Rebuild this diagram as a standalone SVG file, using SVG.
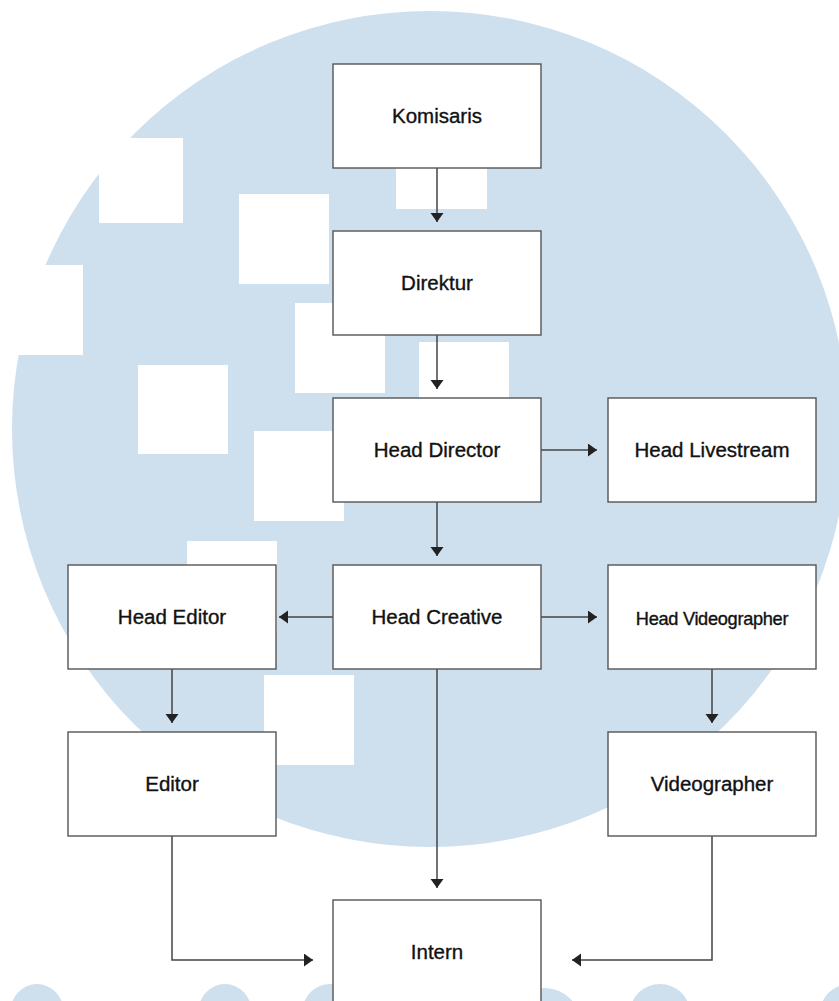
<svg xmlns="http://www.w3.org/2000/svg" width="839" height="1001" viewBox="0 0 839 1001">
<style>
.box{fill:#fff;stroke:#555;stroke-width:1.4}
.lbl{font-family:"Liberation Sans",Arial,sans-serif;font-size:20.5px;fill:#111;stroke:#111;stroke-width:0.35;text-anchor:middle}
.sm{font-size:18.2px;letter-spacing:-0.3px}
.ln{fill:none;stroke:#444;stroke-width:1.5}
.bg{fill:#cedfee}
.sq{fill:#fff}
</style>
<defs>
<marker id="ah" markerUnits="userSpaceOnUse" markerWidth="12" markerHeight="14" refX="9" refY="6.5" orient="auto">
<path d="M0,0 L9,6.5 L0,13 z" fill="#222"/>
</marker>
</defs>
<rect width="839" height="1001" fill="#fff"/>
<g id="background">
<circle class="bg" cx="430" cy="429" r="418"/>
<rect class="sq" x="99" y="138" width="84" height="85"/>
<rect class="sq" x="239" y="194" width="90" height="90"/>
<rect class="sq" x="0" y="265" width="83" height="90"/>
<rect class="sq" x="295" y="303" width="90" height="90"/>
<rect class="sq" x="138" y="365" width="90" height="89"/>
<rect class="sq" x="254" y="431" width="90" height="90"/>
<rect class="sq" x="396" y="119" width="91" height="90"/>
<rect class="sq" x="419" y="342" width="90" height="90"/>
<rect class="sq" x="187" y="541" width="90" height="90"/>
<rect class="sq" x="264" y="675" width="90" height="90"/>
<ellipse class="bg" cx="37" cy="1013" rx="27" ry="29"/>
<ellipse class="bg" cx="225" cy="1013" rx="27" ry="29"/>
<ellipse class="bg" cx="330" cy="1013" rx="28" ry="29"/>
<ellipse class="bg" cx="545" cy="1023" rx="35" ry="35"/>
<ellipse class="bg" cx="660" cy="1013" rx="30" ry="29"/>
<ellipse class="bg" cx="850" cy="1013" rx="30" ry="29"/>
</g>
<g id="connectors">
<line class="ln" x1="437" y1="168" x2="437" y2="222" marker-end="url(#ah)"/>
<line class="ln" x1="437" y1="335" x2="437" y2="389" marker-end="url(#ah)"/>
<line class="ln" x1="541" y1="450" x2="597" y2="450" marker-end="url(#ah)"/>
<line class="ln" x1="437" y1="502" x2="437" y2="556" marker-end="url(#ah)"/>
<line class="ln" x1="333" y1="617" x2="279" y2="617" marker-end="url(#ah)"/>
<line class="ln" x1="541" y1="617" x2="597" y2="617" marker-end="url(#ah)"/>
<line class="ln" x1="172" y1="669" x2="172" y2="723" marker-end="url(#ah)"/>
<line class="ln" x1="712" y1="669" x2="712" y2="723" marker-end="url(#ah)"/>
<line class="ln" x1="437" y1="669" x2="437" y2="888" marker-end="url(#ah)"/>
<polyline class="ln" points="172,836 172,960 313,960" marker-end="url(#ah)"/>
<polyline class="ln" points="712,836 712,960 572,960" marker-end="url(#ah)"/>
</g>
<g id="komisaris"><rect class="box" x="333" y="64" width="208" height="104"/><text class="lbl" x="437" y="123">Komisaris</text></g>
<g id="direktur"><rect class="box" x="333" y="231" width="208" height="104"/><text class="lbl" x="437" y="290">Direktur</text></g>
<g id="head-director"><rect class="box" x="333" y="398" width="208" height="104"/><text class="lbl" x="437" y="457">Head Director</text></g>
<g id="head-livestream"><rect class="box" x="608" y="398" width="208" height="104"/><text class="lbl" x="712" y="457">Head Livestream</text></g>
<g id="head-editor"><rect class="box" x="68" y="565" width="208" height="104"/><text class="lbl" x="172" y="624">Head Editor</text></g>
<g id="head-creative"><rect class="box" x="333" y="565" width="208" height="104"/><text class="lbl" x="437" y="624">Head Creative</text></g>
<g id="head-videographer"><rect class="box" x="608" y="565" width="208" height="104"/><text class="lbl sm" x="712" y="625">Head Videographer</text></g>
<g id="editor"><rect class="box" x="68" y="732" width="208" height="104"/><text class="lbl" x="172" y="791">Editor</text></g>
<g id="videographer"><rect class="box" x="608" y="732" width="208" height="104"/><text class="lbl" x="712" y="791">Videographer</text></g>
<g id="intern"><rect class="box" x="333" y="900" width="208" height="130"/><text class="lbl" x="437" y="959">Intern</text></g>
</svg>
